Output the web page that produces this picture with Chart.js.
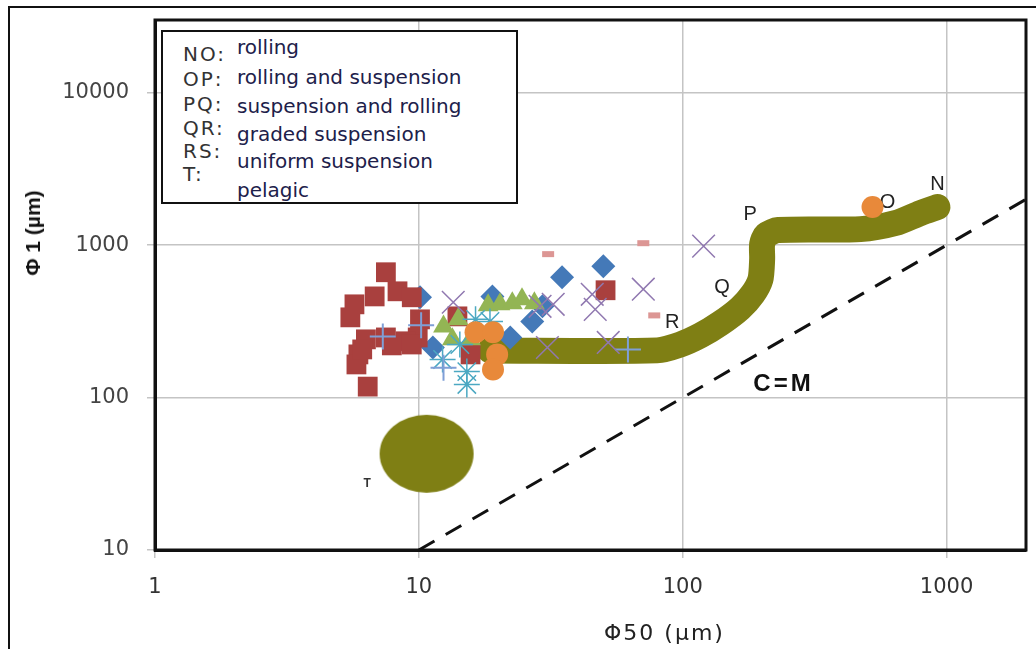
<!DOCTYPE html>
<html>
<head>
<title>C-M diagram</title>
<script src="https://cdn.jsdelivr.net/npm/chart.js"></script>
<style>
  body { margin: 0; background: #fff; }
  .wrap { position: relative; width: 1036px; height: 649px; overflow: hidden; background: #fff; }
  .frame { position: absolute; left: 8px; top: 6px; width: 1100px; height: 700px; border: 2px solid #111; }
  canvas { position: absolute; left: 0; top: 0; }
  .legend { position: absolute; left: 161px; top: 30px; width: 353px; height: 170px; border: 2px solid #111; background: #fff; }
  .legend div { position: absolute; white-space: nowrap; line-height: 20px; }
  .lab { left: 20px; font: 20px "DejaVu Sans", sans-serif; color: #333; letter-spacing: 2px; }
  .desc { left: 74px; font: 20px "DejaVu Sans", sans-serif; color: #20204a; }
  .xtitle { position: absolute; left: 604px; top: 620px; font: 22px "DejaVu Sans", sans-serif; color: #222; letter-spacing: 2px; }
  .ytitle { position: absolute; left: 33px; top: 233px; font: bold 21px "Liberation Sans", Arial, sans-serif; color: #111;
            transform: translate(-50%, -50%) rotate(-90deg); white-space: nowrap; }
</style>
</head>
<body>
<div class="wrap">
  <div class="frame"></div>
  <canvas id="cmChart" width="1036" height="649"></canvas>
  <div class="legend">
    <div class="lab" style="top:12px">NO:</div>
    <div class="lab" style="top:37px">OP:</div>
    <div class="lab" style="top:62px">PQ:</div>
    <div class="lab" style="top:86px">QR:</div>
    <div class="lab" style="top:109px">RS:</div>
    <div class="lab" style="top:132px">T:</div>
    <div class="desc" style="top:5px">rolling</div>
    <div class="desc" style="top:35px">rolling and suspension</div>
    <div class="desc" style="top:64px">suspension and rolling</div>
    <div class="desc" style="top:92px">graded suspension</div>
    <div class="desc" style="top:119px">uniform suspension</div>
    <div class="desc" style="top:148px">pelagic</div>
  </div>
  <div class="xtitle">Φ50 (µm)</div>
  <div class="ytitle">Φ 1 (µm)</div>
</div>
<script>
    // axis ticks
    const xTicks = [1, 10, 100, 1000];
    const yTicks = [10, 100, 1000, 10000];

    // samples: [C50, C1] pairs
    const squares = [[7.5, 664], [5.7, 409], [6.8, 461], [8.3, 498], [9.4, 455], [5.5, 336], [10.1, 326],
                     [9.9, 248], [8.9, 234], [7.5, 248], [6.3, 241], [5.9, 192], [5.8, 165], [6.4, 118],
                     [7.9, 220], [9.4, 223], [6.1, 207],
                     [14, 341], [15.7, 192], [51, 506]];
    const diamonds = [[10.1, 455], [11.3, 213], [19, 461], [22.2, 248], [26.9, 316], [29.4, 397], [34.9, 616], [50, 727]];
    const triangles = [[12.4, 293], [14.1, 326], [15.7, 241], [18.3, 403], [20.3, 409], [22.6, 415], [24.6, 441], [27.4, 415], [13.4, 241]];
    const crosses = [[13.5, 422], [28.8, 397], [32.3, 409], [30.7, 213], [45.4, 476], [46.6, 379], [52.2, 230], [70.9, 514], [120, 985]];
    const stars = [[16.4, 326], [14.3, 223], [15.2, 148], [15.2, 122], [12.3, 178], [18.6, 316]];
    const pluses = [[7.3, 252], [10.2, 298], [12.4, 157], [62, 207]];
    const dots = [[16.4, 268], [19.1, 268], [19.8, 192], [19.1, 153], [524, 1778]];
    const dashes = [[30.9, 873], [70.9, 1030], [78, 346]];

    // NOPQRS envelope and the pelagic field T
    const curveX = [18.6, 80, 98, 117, 139, 165, 184, 197, 200, 200, 207, 230, 472, 640, 796, 923];
    const curveY = [204, 204, 223, 256, 307, 385, 476, 597, 809, 1016, 1164, 1256, 1274, 1396, 1624, 1778];
    const fieldT = [[10.7, 42.8]];
    const cmLine = [[10, 10], [2000, 2000]];

    // text placed on the plot
    const noteText = ['N', 'O', 'P', 'Q', 'R', 'T', 'C=M'];
    const noteX = [923, 597, 180, 141, 91.3, 6.37, 241];
    const noteY = [2483, 1918, 1600, 529, 311, 27.2, 122];

    const pts = arr => arr.map(p => ({ x: p[0], y: p[1] }));

    const blob = document.createElement('canvas');
    blob.width = 96; blob.height = 80;
    const bctx = blob.getContext('2d');
    bctx.fillStyle = '#7f7f14';
    bctx.beginPath();
    bctx.ellipse(48, 40, 47, 39, 0, 0, Math.PI * 2);
    bctx.fill();

    const plotExtras = {
        id: 'plotExtras',
        beforeDatasetsDraw(chart) {
            const { ctx, scales: { x, y } } = chart;
            ctx.save();
            ctx.textAlign = 'center';
            ctx.textBaseline = 'middle';
            noteText.forEach((t, i) => {
                ctx.letterSpacing = '0px';
                if (t === 'C=M') {
                    ctx.font = 'bold 24px "Liberation Sans", Arial, sans-serif';
                    ctx.letterSpacing = '3px';
                    ctx.fillStyle = '#111';
                } else if (t === 'T') {
                    ctx.font = 'bold 12px "Liberation Sans", Arial, sans-serif';
                    ctx.fillStyle = '#333';
                } else {
                    ctx.font = '20px "Liberation Sans", Arial, sans-serif';
                    ctx.fillStyle = '#222';
                }
                ctx.fillText(t, x.getPixelForValue(noteX[i]), y.getPixelForValue(noteY[i]));
            });
            ctx.restore();
        },
        afterDraw(chart) {
            const { ctx, chartArea: a } = chart;
            ctx.save();
            ctx.strokeStyle = '#111';
            ctx.lineWidth = 3;
            ctx.strokeRect(a.left, a.top, a.right - a.left, a.bottom - a.top);
            ctx.restore();
        }
    };

    const tickFont = { family: 'DejaVu Sans', size: 21 };

    new Chart(document.getElementById('cmChart').getContext('2d'), {
        type: 'scatter',
        data: {
            datasets: [
                { data: pts(cmLine), showLine: true, pointRadius: 0, borderColor: '#111', borderWidth: 3, borderDash: [18, 13], order: 12 },
                { data: curveX.map((v, i) => ({ x: v, y: curveY[i] })), showLine: true, pointRadius: 0, borderColor: '#7f7f14',
                  borderWidth: 26, borderCapStyle: 'round', borderJoinStyle: 'round', tension: 0.25, order: 11 },
                { data: pts(fieldT), pointStyle: blob, pointRadius: 40, order: 10 },
                { data: pts(diamonds), pointStyle: 'rectRot', pointRadius: 12, backgroundColor: '#4479b8', borderColor: '#4479b8', borderWidth: 0, order: 9 },
                { data: pts(squares), pointStyle: 'rect', pointRadius: 14, backgroundColor: '#a9403e', borderColor: '#a9403e', borderWidth: 0, order: 8 },
                { data: pts(triangles), pointStyle: 'triangle', pointRadius: 12, backgroundColor: '#93b554', borderColor: '#93b554', borderWidth: 0, order: 7 },
                { data: pts(stars), pointStyle: 'star', pointRadius: 13, borderColor: '#4ba8c2', borderWidth: 1.5, order: 6 },
                { data: pts(pluses), pointStyle: 'cross', pointRadius: 13, borderColor: '#7f9fd6', borderWidth: 2, order: 5 },
                { data: pts(crosses), pointStyle: 'crossRot', pointRadius: 16, borderColor: '#9078b0', borderWidth: 1.5, order: 4 },
                { data: pts(dashes), pointStyle: 'line', pointRadius: 6, borderColor: '#dc9694', borderWidth: 6, order: 3 },
                { data: pts(dots), pointStyle: 'circle', pointRadius: 11, backgroundColor: '#e8893a', borderColor: '#e8893a', borderWidth: 0, order: 2 }
            ]
        },
        options: {
            responsive: false,
            animation: false,
            layout: { autoPadding: false, padding: { top: 20, right: 10, left: 0, bottom: 0 } },
            plugins: { legend: { display: false }, tooltip: { enabled: false } },
            scales: {
                x: {
                    type: 'logarithmic', min: 1, max: 2000,
                    afterBuildTicks: s => { s.ticks = xTicks.map(v => ({ value: v })); },
                    afterFit: s => { s.height = 99; s.paddingLeft = 0; s.paddingRight = 0; },
                    ticks: { callback: v => String(v), font: tickFont, color: '#333', padding: 17, maxRotation: 0, autoSkip: false },
                    grid: { color: '#c4c4c4', lineWidth: 1.5, tickLength: 8 },
                    border: { color: '#111', width: 3 }
                },
                y: {
                    type: 'logarithmic', min: 10, max: 30000,
                    afterBuildTicks: s => { s.ticks = yTicks.map(v => ({ value: v })); },
                    afterFit: s => { s.width = 155; s.paddingTop = 0; s.paddingBottom = 0; },
                    ticks: { callback: v => String(v), font: tickFont, color: '#444', padding: 18, autoSkip: false },
                    grid: { color: '#c4c4c4', lineWidth: 1.5, tickLength: 8 },
                    border: { color: '#111', width: 3 }
                }
            }
        },
        plugins: [plotExtras]
    });
</script>
</body>
</html>
